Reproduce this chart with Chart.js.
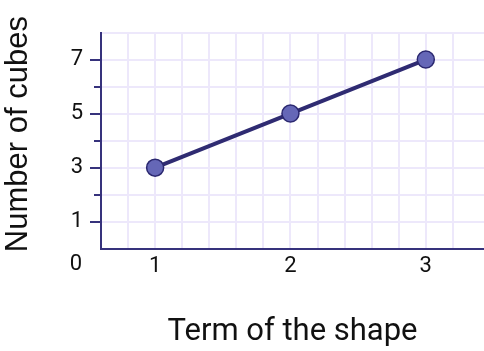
<!DOCTYPE html>
<html><head><meta charset="utf-8">
<script src="https://cdn.jsdelivr.net/npm/chart.js@4"></script>
<style>html,body{margin:0;padding:0;background:#fff}canvas{display:block}</style>
</head><body>
<canvas id="c" width="484" height="351"></canvas>
<script>
const terms = [1, 2, 3];
const cubes = [3, 5, 7];
const xTickLabels = ['1', '2', '3'];
const yTickLabels = ['1', '3', '5', '7'];
const yMinorTicks = [2, 4, 6];
const originLabel = '0';
const xTitle = 'Term of the shape';
const yTitle = 'Number of cubes';

const AXIS = '#36327c';
const GRID = '#ede8fb';
const TEXT = '#111111';
const TICK_FONT = { family: 'Roboto', size: 22 };
const X_LABEL_PAD = 5;

const extras = {
  id: 'extras',
  afterDraw(chart) {
    const ys = chart.scales.y, xs = chart.scales.x, ctx = chart.ctx;
    ctx.save();
    ctx.strokeStyle = AXIS;
    ctx.lineWidth = 2;
    yMinorTicks.forEach(v => {
      const p = Math.round(ys.getPixelForValue(v));
      ctx.beginPath();
      ctx.moveTo(ys.right - 7, p);
      ctx.lineTo(ys.right, p);
      ctx.stroke();
    });
    ctx.fillStyle = TEXT;
    ctx.font = TICK_FONT.size + 'px ' + TICK_FONT.family;
    ctx.textAlign = 'right';
    ctx.textBaseline = 'top';
    ctx.fillText(originLabel, ys.right - 11 - 8, xs.top + X_LABEL_PAD);
    // y axis title
    ctx.font = '31px "Liberation Sans", Arial, sans-serif';
    ctx.textAlign = 'center';
    ctx.textBaseline = 'alphabetic';
    ctx.translate(ys.left + 26.5, (ys.top + ys.bottom) / 2 - 6.5);
    ctx.rotate(-Math.PI / 2);
    ctx.fillText(yTitle, 0, 0);
    ctx.restore();
  }
};

new Chart(document.getElementById('c'), {
  type: 'line',
  data: {
    datasets: [{
      data: terms.map((t, i) => ({ x: t, y: cubes[i] })),
      borderColor: '#2f2b72',
      borderWidth: 4,
      pointRadius: 8.5,
      pointBackgroundColor: '#6567b7',
      pointBorderColor: '#2b2870',
      pointBorderWidth: 1.5,
      tension: 0,
      clip: false
    }]
  },
  options: {
    responsive: false,
    animation: false,
    events: [],
    layout: { autoPadding: false, padding: { top: 32.5, right: 0, left: 0, bottom: 0 } },
    plugins: { legend: { display: false }, tooltip: { enabled: false } },
    scales: {
      x: {
        type: 'linear',
        min: 0.6,
        max: 3.43,
        afterBuildTicks: s => {
          const t = [];
          for (let k = 3; k <= 16; k++) t.push({ value: k / 5 });
          s.ticks = t;
        },
        afterFit: s => { s.height = 102.3; },
        grid: { color: GRID, lineWidth: 2, drawTicks: false },
        border: { color: AXIS, width: 2 },
        ticks: {
          autoSkip: false,
          maxRotation: 0,
          padding: X_LABEL_PAD,
          color: TEXT,
          font: TICK_FONT,
          callback: v => {
            const l = xTickLabels.find(s => Math.abs(Number(s) - v) < 1e-6);
            return l === undefined ? '' : l;
          }
        },
        title: {
          display: true,
          text: xTitle,
          color: TEXT,
          font: { family: 'Roboto', size: 31 },
          padding: { top: 0, bottom: 0 }
        }
      },
      y: {
        min: 0,
        max: 8,
        afterFit: s => { s.width = 101; },
        grid: {
          color: GRID,
          lineWidth: 2,
          tickLength: 11,
          tickWidth: 2,
          tickColor: c => yTickLabels.includes(String(c.tick && c.tick.value)) ? AXIS : 'rgba(0,0,0,0)'
        },
        border: { color: AXIS, width: 2 },
        ticks: {
          stepSize: 1,
          autoSkip: false,
          padding: 7,
          color: TEXT,
          font: TICK_FONT,
          callback: v => yTickLabels.includes(String(v)) ? String(v) : ''
        },
        title: { display: false, text: yTitle }
      }
    }
  },
  plugins: [extras]
});
</script>
</body></html>
